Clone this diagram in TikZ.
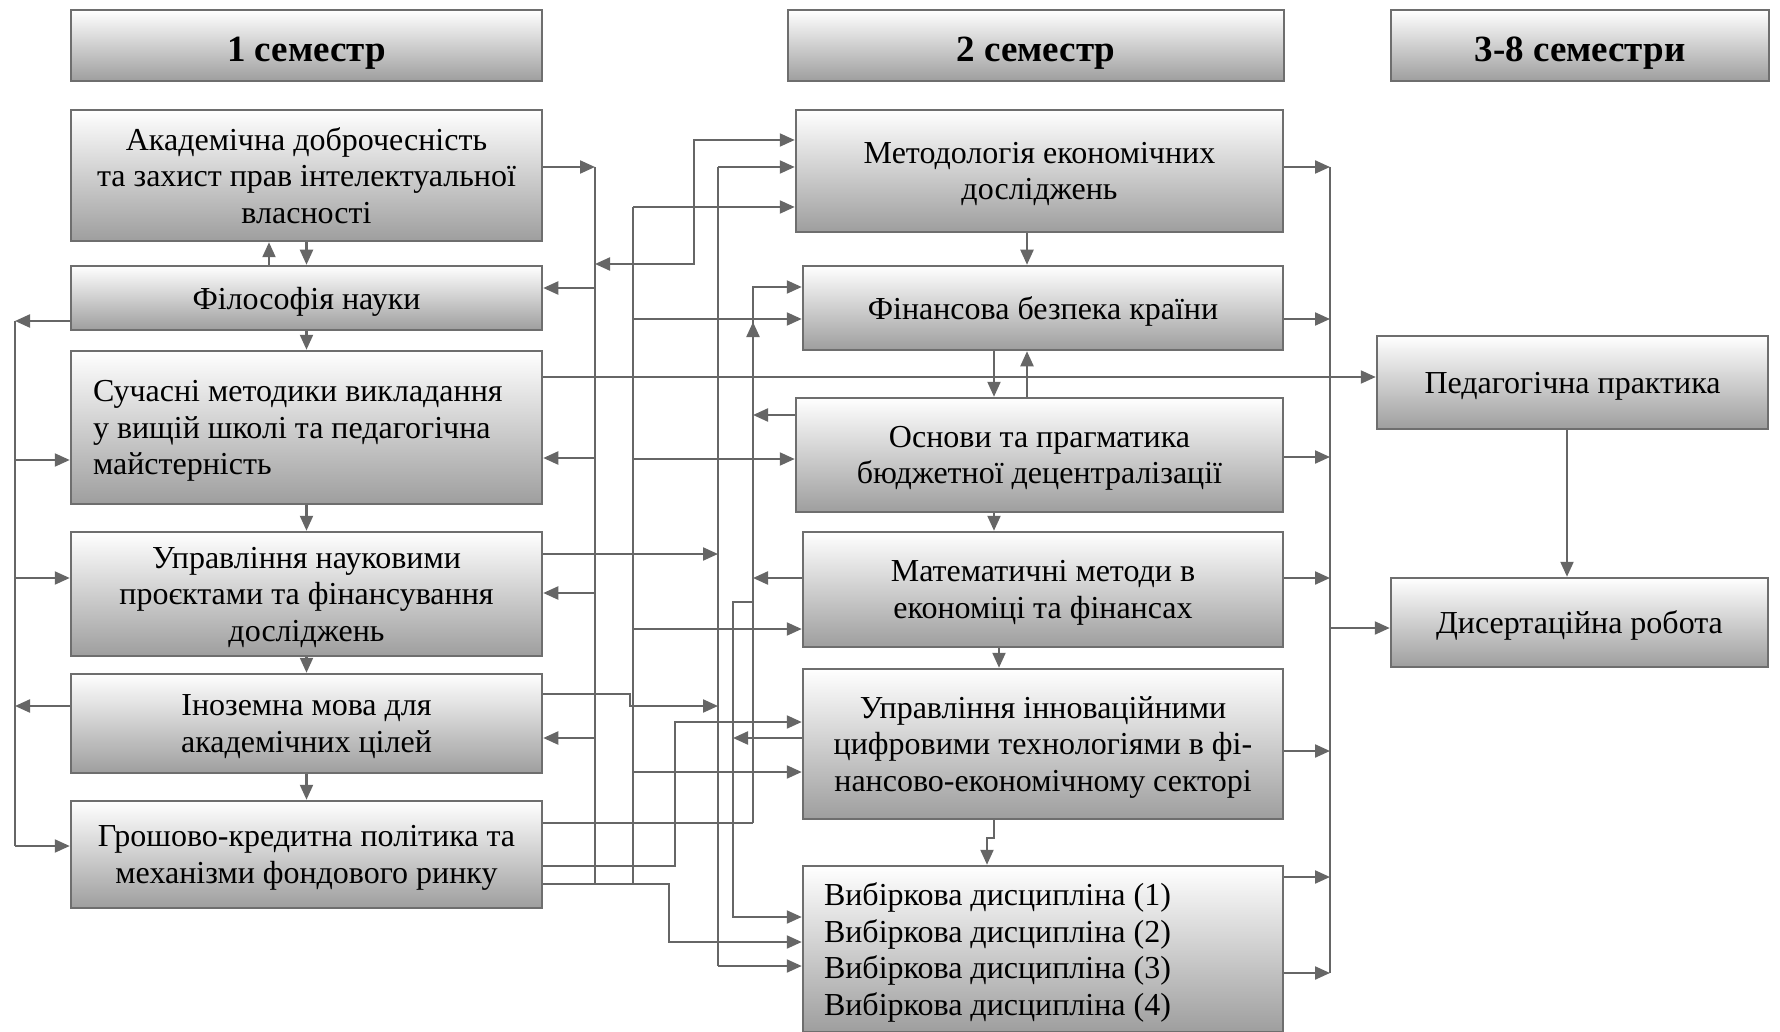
\documentclass[tikz,border=0pt]{standalone}
\usepackage{fontspec}
\setmainfont{Liberation Serif}
\usetikzlibrary{arrows.meta}

\definecolor{boxgray}{HTML}{6E6E6E}
\definecolor{linegray}{HTML}{666666}
\tikzset{
  >={Triangle[length=15pt,width=13pt]},
  blok/.style={draw=boxgray, line width=2.5pt, top color=white, bottom color=black!38,
    inner sep=0pt, align=center, text depth=0pt, font=\fontsize{32}{36.5}\selectfont},
  semblok/.style={blok, minimum height=71pt, text height=32pt, font=\fontsize{37}{40}\selectfont\bfseries},
  lin/.style={draw=linegray, line width=2.2pt},
  arr/.style={lin, ->},
  dvoj/.style={lin, <->},
}

\begin{document}
\begin{tikzpicture}[x=1pt,y=-1pt]
\useasboundingbox (0,0) rectangle (1780,1032);

% semester headers
\node[semblok, minimum width=471pt] (s1) at (306.5,45.5) {1 семестр};
\node[semblok, minimum width=496pt] (s2) at (1036,45.5) {2 семестр};
\node[semblok, minimum width=378pt] (s3) at (1580,45.5) {3-8 семестри};

% 1 semester
\node[blok, minimum width=471pt, minimum height=131pt] (a1) at (306.5,175.5) {Академічна доброчесність\\та захист прав інтелектуальної\\власності};
\node[blok, minimum width=471pt, minimum height=64pt] (a2) at (306.5,298) {Філософія науки};
\node[blok, minimum width=471pt, minimum height=153pt, text width=427pt, text depth=73pt, align=flush left] (a3) at (306.5,427.5) {Сучасні методики викладання\\у вищій школі та педагогічна\\майстерність};
\node[blok, minimum width=471pt, minimum height=124pt] (a4) at (306.5,594) {Управління науковими\\проєктами та фінансування\\досліджень};
\node[blok, minimum width=471pt, minimum height=99pt] (a5) at (306.5,723.5) {Іноземна мова для\\академічних цілей};
\node[blok, minimum width=471pt, minimum height=107pt] (a6) at (306.5,854.5) {Грошово-кредитна політика та\\механізми фондового ринку};

% 2 semester
\node[blok, minimum width=487pt, minimum height=122pt] (b1) at (1039.5,171) {Методологія економічних\\досліджень};
\node[blok, minimum width=480pt, minimum height=84pt] (b2) at (1043,308) {Фінансова безпека країни};
\node[blok, minimum width=487pt, minimum height=114pt] (b3) at (1039.5,455) {Основи та прагматика\\бюджетної децентралізації};
\node[blok, minimum width=480pt, minimum height=115pt] (b4) at (1043,589.5) {Математичні методи в\\економіці та фінансах};
\node[blok, minimum width=480pt, minimum height=150pt] (b5) at (1043,744) {Управління інноваційними\\цифровими технологіями в фі-\\нансово-економічному секторі};
\node[blok, minimum width=480pt, minimum height=166pt, text width=438pt, text depth=109.5pt, align=flush left] (b6) at (1043,949) {Вибіркова дисципліна (1)\\Вибіркова дисципліна (2)\\Вибіркова дисципліна (3)\\Вибіркова дисципліна (4)};

% 3-8 semesters
\node[blok, minimum width=391pt, minimum height=93pt] (c1) at (1572.5,382.5) {Педагогічна практика};
\node[blok, minimum width=377pt, minimum height=89pt] (c2) at (1579.5,622.5) {Дисертаційна робота};

% bus lines
\coordinate (lb) at (15,0);
\coordinate (v1) at (595,0);
\coordinate (v3) at (633,0);
\coordinate (v2) at (718,0);
\coordinate (v5) at (733,0);
\coordinate (v4) at (753,0);
\coordinate (rb) at (1330,0);

% left column, top to bottom
\draw[arr] (a1.south) -- (a2.north);
\draw[arr] (a2.north -| 269,0) -- (a1.south -| 269,0);
\draw[arr] (a2.south) -- (a3.north);
\draw[arr] (a3.south) -- (a4.north);
\draw[arr] (a4.south) -- (a5.north);
\draw[arr] (a5.south) -- (a6.north);

% left bus
\draw[lin] (lb |- 0,321) -- (lb |- 0,846);
\draw[arr] (a2.west |- 0,321) -- (lb |- 0,321);
\draw[arr] (lb |- 0,460) -- (a3.west |- 0,460);
\draw[arr] (lb |- 0,578) -- (a4.west |- 0,578);
\draw[arr] (a5.west |- 0,706) -- (lb |- 0,706);
\draw[arr] (lb |- 0,846) -- (a6.west |- 0,846);

% bus v1 (back to the 1 semester)
\draw[lin] (v1 |- 0,167) -- (v1 |- 0,884);
\draw[arr] (a1.east |- 0,167) -- (v1 |- 0,167);
\draw[arr] (v1 |- 0,288) -- (a2.east |- 0,288);
\draw[arr] (v1 |- 0,458) -- (a3.east |- 0,458);
\draw[arr] (v1 |- 0,593) -- (a4.east |- 0,593);
\draw[arr] (v1 |- 0,738) -- (a5.east |- 0,738);
\draw[dvoj] (v1 |- 0,264) -- (694,264) -- (694,140) -- (b1.west |- 0,140);

% bus v3
\draw[lin] (v3 |- 0,207) -- (v3 |- 0,884);
\draw[arr] (v3 |- 0,207) -- (b1.west |- 0,207);
\draw[arr] (v3 |- 0,319) -- (b2.west |- 0,319);
\draw[arr] (v3 |- 0,459) -- (b3.west |- 0,459);
\draw[arr] (v3 |- 0,629) -- (b4.west |- 0,629);
\draw[arr] (v3 |- 0,772) -- (b5.west |- 0,772);

% out of a6
\draw[arr] (a6.east |- 0,884) -- (669,884) -- (669,942) -- (b6.west |- 0,942);
\draw[arr] (a6.east |- 0,866) -- (675,866) -- (675,722) -- (b5.west |- 0,722);
\draw[lin] (a6.east |- 0,823) -- (v4 |- 0,823);

% bus v2
\draw[lin] (v2 |- 0,167) -- (v2 |- 0,966);
\draw[arr] (v2 |- 0,167) -- (b1.west |- 0,167);
\draw[arr] (a4.east |- 0,554) -- (v2 |- 0,554);
\draw[arr] (a5.east |- 0,694) -- (630,694) -- (630,706) -- (v2 |- 0,706);
\draw[arr] (v2 |- 0,966) -- (b6.west |- 0,966);

% bus v4 and v5
\draw[arr] (v4 |- 0,823) -- (v4 |- 0,322);
\draw[arr] (v4 |- 0,335) -- (v4 |- 0,287) -- (b2.west |- 0,287);
\draw[arr] (b3.west |- 0,415) -- (v4 |- 0,415);
\draw[arr] (b4.west |- 0,578) -- (v4 |- 0,578);
\draw[arr] (v4 |- 0,602) -- (v5 |- 0,602) -- (v5 |- 0,917) -- (b6.west |- 0,917);
\draw[arr] (b5.west |- 0,738) -- (v5 |- 0,738);

% long line to practice
\draw[arr] (a3.east |- 0,377) -- (c1.west |- 0,377);

% 2 semester, top to bottom
\draw[arr] (b1.south -| 1027,0) -- (b2.north -| 1027,0);
\draw[arr] (b2.south -| 994,0) -- (b3.north -| 994,0);
\draw[arr] (b3.north -| 1027,0) -- (b2.south -| 1027,0);
\draw[arr] (b3.south -| 994,0) -- (b4.north -| 994,0);
\draw[arr] (b4.south -| 999,0) -- (b5.north -| 999,0);
\draw[arr] (b5.south -| 994,0) -- (994,838) -- (987,838) -- (b6.north -| 987,0);

% right bus
\draw[lin] (rb |- 0,167) -- (rb |- 0,973);
\draw[arr] (b1.east |- 0,167) -- (rb |- 0,167);
\draw[arr] (b2.east |- 0,319) -- (rb |- 0,319);
\draw[arr] (b3.east |- 0,457) -- (rb |- 0,457);
\draw[arr] (b4.east |- 0,578) -- (rb |- 0,578);
\draw[arr] (b5.east |- 0,751) -- (rb |- 0,751);
\draw[arr] (b6.east |- 0,877) -- (rb |- 0,877);
\draw[arr] (b6.east |- 0,973) -- (rb |- 0,973);
\draw[arr] (rb |- 0,628) -- (c2.west |- 0,628);
\draw[arr] (c1.south -| 1567,0) -- (c2.north -| 1567,0);
\end{tikzpicture}
\end{document}
